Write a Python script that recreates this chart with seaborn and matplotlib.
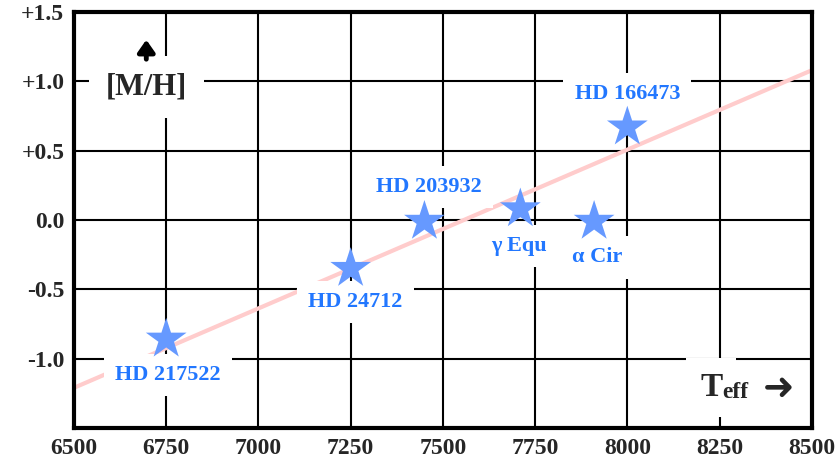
import matplotlib
matplotlib.use("Agg")
import matplotlib.pyplot as plt
import seaborn as sns
import pandas as pd

# star data
names = ["HD 217522", "HD 24712", "HD 203932", "\u03b3 Equ", "\u03b1 Cir", "HD 166473"]
teff = [6750, 7250, 7450, 7710, 7910, 8000]
metal = [-0.86, -0.35, -0.01, 0.08, -0.01, 0.67]
label_x = [6755, 7263, 7462, 7707, 7918, 8000]
label_y = [-1.115, -0.59, 0.24, -0.19, -0.27, 0.91]

# linear trend
fit_x = [6500, 8500]
fit_y = [-1.21, 1.08]

x_ticks = [6500, 6750, 7000, 7250, 7500, 7750, 8000, 8250, 8500]
y_ticks = [-1.0, -0.5, 0.0, 0.5, 1.0, 1.5]
y_tick_labels = ["-1.0", "-0.5", "0.0", "+0.5", "+1.0", "+1.5"]

sns.set_style("white")
plt.rcParams['font.family'] = ['Liberation Serif', 'DejaVu Serif']
plt.rcParams['font.weight'] = 'bold'

stars = pd.DataFrame({'Teff': teff, 'MH': metal})
fit = pd.DataFrame({'Teff': fit_x, 'MH': fit_y})

fig = plt.figure(figsize=(8.36, 4.63), dpi=100)
ax = fig.add_axes([0.0885, 0.0756, 0.8825, 0.8984])

ax.grid(True, color='black', linewidth=1.5)
ax.set_axisbelow(True)

sns.lineplot(data=fit, x='Teff', y='MH', color='#ffcccc', linewidth=3, ax=ax, zorder=2)
sns.scatterplot(data=stars, x='Teff', y='MH', marker='*', s=950, color='#6699ff',
                edgecolor='none', ax=ax, zorder=4)

box = dict(facecolor='white', edgecolor='none', pad=8)
for n, lx, ly in zip(names, label_x, label_y):
    ax.text(lx, ly, n, color='#2277ff', fontsize=16, fontweight='bold',
            ha='center', va='center', bbox=box, zorder=3)

ax.text(6696, 0.96, "[M/H]", fontsize=22, fontweight='bold', ha='center', va='center',
        bbox=dict(facecolor='white', edgecolor='none', pad=12), zorder=3)
ax.annotate("", xy=(6696, 1.30), xytext=(6696, 1.16),
            arrowprops=dict(arrowstyle='-|>,head_length=0.4,head_width=0.28',
                            color='black', lw=3.5, mutation_scale=18,
                            shrinkA=0, shrinkB=0),
            zorder=3)
ax.text(8258, -1.21, "T", fontsize=24, fontweight='bold', ha='right', va='center',
        bbox=dict(facecolor='white', edgecolor='none', pad=10), zorder=3)
ax.text(8258, -1.245, "eff", fontsize=17, fontweight='bold', ha='left', va='center', zorder=3)
ax.text(8410, -1.215, "\u279c", fontsize=27, fontweight='bold', ha='center', va='center',
        family=['DejaVu Sans'], zorder=3)

ax.set_xlim(6500, 8500)
ax.set_ylim(-1.5, 1.5)
ax.set_xticks(x_ticks)
ax.set_yticks(y_ticks)
ax.set_yticklabels(y_tick_labels)
ax.tick_params(axis='both', length=0, labelsize=17, pad=7)
for lab in ax.get_xticklabels() + ax.get_yticklabels():
    lab.set_fontweight('bold')
ax.set_xlabel('')
ax.set_ylabel('')

for side in ['left', 'right', 'top', 'bottom']:
    ax.spines[side].set_visible(True)
    ax.spines[side].set_color('black')
    ax.spines[side].set_linewidth(3)

fig.savefig('out.png', dpi=100)
